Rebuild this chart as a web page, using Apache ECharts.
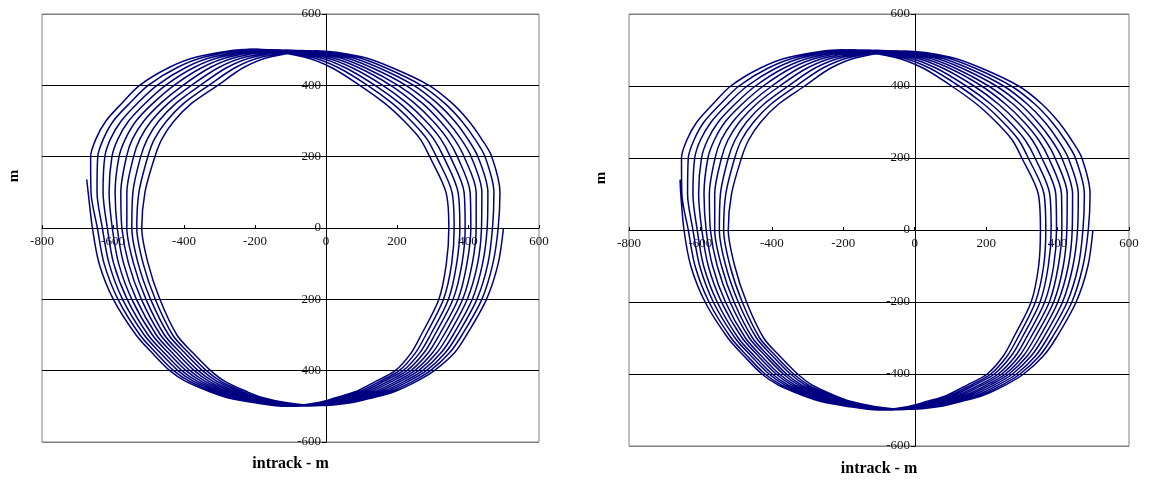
<!DOCTYPE html>
<html>
<head>
<meta charset="utf-8">
<script src="https://cdn.jsdelivr.net/npm/echarts@6/dist/echarts.min.js"></script>
<style>
html,body{margin:0;padding:0;background:#fff;}
#c{width:1150px;height:481px;}
</style>
</head>
<body>
<div id="c"></div>
<script>
// ---------- DATA (metres) ----------
const X_TICKS = [-800, -600, -400, -200, 0, 200, 400, 600];
const Y_TICKS = [-600, -400, -200, 0, 200, 400, 600];
const X_TITLE = 'intrack - m';
const Y_TITLE = 'm';

// radial levels at which each loop's intrack position was read
const LEFT_LEVELS = [480, 450, 400, 350, 300, 250, 200, 100, 0, -100, -200, -300, -350, -400, -430, -460, -475, -490];
const RIGHT_LEVELS = [-490, -475, -460, -430, -400, -350, -300, -200, -100, 0, 100, 200, 250, 300, 350, 400, 450, 480];

// ---- chart A (left) ----
const A_START = [-674, 136];
const A_LEFT_X = [
  [null, -362, -339, -316, -293, -270, -247, -224, -201, -178, -155],
  [null, -442, -419, -395, -372, -349, -326, -302, -279, -255, -232],
  [null, -525, -501, -476, -452, -428, -403, -379, -354, -330, -305],
  [null, -575, -553, -531, -509, -487, -465, -444, -422, -400, -378],
  [null, -620, -599, -577, -556, -535, -513, -492, -471, -449, -428],
  [null, -648, -627, -607, -586, -565, -545, -524, -503, -483, -462],
  [null, -663, -643, -623, -603, -583, -562, -542, -522, -502, -482],
  [-670, -662, -645, -628, -611, -594, -578, -561, -544, -527, -510],
  [-658, -644, -630, -616, -602, -588, -575, -561, -547, -533, -519],
  [-639, -625, -611, -598, -584, -570, -556, -542, -529, -515, -501],
  [-599, -586, -573, -560, -547, -534, -520, -507, -494, -481, -468],
  [-535, -524, -512, -501, -489, -478, -466, -455, -443, -432, -420],
  [-490, -479, -467, -456, -444, -433, -421, -410, -398, -387, -375],
  [-440, -429, -417, -406, -394, -383, -371, -360, -348, -337, -325],
  [-395, -384, -373, -362, -351, -340, -329, -318, -307, -296, -285],
  [-325, -315, -304, -294, -283, -273, -262, -252, -241, -231, -220],
  [-280, -270, -260, -250, -240, -230, -220, -210, -200, -190, -180],
  [-200, -191, -182, -173, -164, -155, -146, -137, -128, -119, -110]
];
const A_BOT_X = [-112, -103, -94, -84, -75, -66, -57, -48, -38, -29, -20];
const A_BOT_Y = [-500, -500, -500, -500, -499, -499, -499, -499, -498, -498, -498];
const A_RIGHT_X = [
  [-25, -16, -6, 4, 13, 23, 32, 42, 51, 61, 70],
  [30, 41, 51, 62, 72, 83, 93, 104, 114, 125, 135],
  [80, 91, 102, 113, 124, 135, 146, 157, 168, 179, 190],
  [140, 152, 163, 175, 186, 198, 209, 221, 232, 244, 255],
  [195, 206, 217, 228, 239, 250, 261, 272, 283, 294, 305],
  [240, 252, 264, 276, 288, 300, 312, 324, 336, 348, 362],
  [268, 281, 294, 306, 319, 332, 345, 358, 370, 383, 396],
  [318, 331, 345, 358, 372, 385, 398, 412, 425, 439, 452],
  [339, 354, 368, 383, 397, 412, 427, 441, 456, 470, 485],
  [346, 361, 377, 392, 408, 423, 438, 454, 469, 485, 500],
  [338, 355, 372, 389, 406, 423, 439, 456, 473, 490, null],
  [292, 311, 331, 350, 370, 389, 409, 428, 448, 467, null],
  [265, 284, 303, 323, 342, 361, 380, 399, 419, 438, null],
  [220, 240, 260, 281, 301, 321, 341, 362, 382, 402, null],
  [165, 186, 207, 228, 249, 271, 292, 313, 334, 355, null],
  [95, 117, 138, 160, 182, 203, 225, 247, 268, 290, null],
  [15, 34, 53, 72, 91, 109, 128, 147, 166, 185, null],
  [-65, -47, -28, -10, 8, 27, 45, 63, 82, 100, null]
];
const A_TOP_X = [-214, -193, -172, -152, -131, -110, -90, -69, -48, -28];
const A_TOP_Y = [501, 501, 500, 500, 499, 499, 498, 498, 497, 497];

// ---- chart B (right) ----
const B_START = [-657, 140];
const B_LEFT_X = [
  [null, -352, -330, -309, -287, -266, -244, -223, -201, -180, -158],
  [null, -432, -410, -388, -366, -345, -323, -301, -279, -257, -235],
  [null, -515, -492, -469, -446, -424, -400, -378, -354, -332, -308],
  [null, -565, -544, -524, -503, -483, -462, -443, -422, -402, -381],
  [null, -610, -590, -570, -550, -531, -510, -491, -471, -451, -431],
  [null, -638, -618, -600, -580, -561, -542, -523, -503, -485, -465],
  [null, -653, -634, -616, -597, -579, -559, -541, -522, -504, -485],
  [-655, -652, -636, -621, -605, -590, -575, -560, -544, -529, -513],
  [-646, -634, -621, -609, -596, -584, -572, -560, -547, -535, -522],
  [-627, -615, -602, -591, -578, -566, -553, -541, -529, -517, -504],
  [-587, -576, -564, -553, -541, -530, -517, -506, -494, -483, -471],
  [-523, -514, -503, -494, -483, -474, -463, -454, -443, -434, -423],
  [-478, -469, -458, -449, -438, -429, -418, -409, -398, -389, -378],
  [-428, -419, -408, -399, -388, -379, -368, -359, -348, -339, -328],
  [-383, -374, -364, -355, -345, -336, -326, -317, -307, -298, -288],
  [-313, -305, -295, -287, -277, -269, -259, -251, -241, -233, -223],
  [-268, -260, -251, -243, -234, -226, -217, -209, -200, -192, -183],
  [-188, -181, -173, -166, -158, -151, -143, -136, -128, -121, -113]
];
const B_BOT_X = [-103, -95, -87, -79, -71, -63, -54, -46, -38, -30, -22];
const B_BOT_Y = [-500, -500, -500, -500, -499, -499, -499, -499, -498, -498, -498];
const B_RIGHT_X = [
  [-17, -9, 0, 10, 18, 27, 35, 44, 53, 62, 70],
  [38, 48, 57, 68, 77, 87, 96, 106, 116, 126, 135],
  [88, 98, 108, 119, 129, 139, 149, 159, 170, 180, 190],
  [148, 159, 169, 181, 191, 202, 212, 223, 234, 245, 255],
  [203, 213, 223, 234, 244, 254, 264, 274, 285, 295, 305],
  [248, 259, 270, 282, 293, 304, 315, 326, 338, 349, 360],
  [276, 288, 300, 312, 324, 336, 348, 360, 372, 384, 396],
  [326, 338, 351, 364, 377, 389, 401, 414, 427, 440, 452],
  [347, 361, 374, 389, 402, 416, 430, 443, 458, 471, 485],
  [352, 367, 382, 397, 412, 426, 441, 456, 471, 486, 499],
  [346, 362, 378, 395, 411, 427, 442, 458, 475, 491, null],
  [300, 318, 337, 356, 375, 393, 412, 430, 450, 468, null],
  [273, 291, 309, 329, 347, 365, 383, 401, 421, 439, null],
  [228, 247, 266, 287, 306, 325, 344, 364, 384, 403, null],
  [173, 193, 213, 234, 254, 275, 295, 315, 336, 356, null],
  [103, 124, 144, 166, 187, 207, 228, 249, 270, 291, null],
  [23, 41, 59, 78, 96, 113, 131, 149, 168, 186, null],
  [-57, -40, -22, -4, 13, 31, 48, 65, 84, 101, null]
];
const B_TOP_X = [-205, -185, -165, -146, -126, -107, -87, -68, -48, -29];
const B_TOP_Y = [501, 501, 500, 500, 499, 499, 498, 498, 497, 497];

// ---------- order the read values into one continuous track ----------
function buildPath(start, leftX, botX, botY, rightX, topX, topY) {
  const pts = [start.slice()];
  const n = leftX[0].length;
  for (let k = 0; k < n; k++) {
    for (let i = 0; i < LEFT_LEVELS.length; i++) {
      const v = leftX[i][k];
      if (v !== null) pts.push([v, LEFT_LEVELS[i]]);
    }
    pts.push([botX[k], botY[k]]);
    for (let i = 0; i < RIGHT_LEVELS.length; i++) {
      const v = rightX[i][k];
      if (v !== null) pts.push([v, RIGHT_LEVELS[i]]);
    }
    if (k < topX.length) pts.push([topX[k], topY[k]]);
  }
  return pts;
}
const pathA = buildPath(A_START, A_LEFT_X, A_BOT_X, A_BOT_Y, A_RIGHT_X, A_TOP_X, A_TOP_Y);
const pathB = buildPath(B_START, B_LEFT_X, B_BOT_X, B_BOT_Y, B_RIGHT_X, B_TOP_X, B_TOP_Y);

// ---------- chart ----------
const FONT = "'Liberation Serif', 'Times New Roman', serif";
const BORDER = '#808080';
const splitColors = Y_TICKS.map((v, i) => (i === 0 || i === Y_TICKS.length - 1) ? BORDER : '#000000');
const GRIDS = [
  { left: 42, top: 14, width: 497, height: 428 },
  { left: 629, top: 14, width: 500, height: 432 }
];
const xMin = X_TICKS[0], xMax = X_TICKS[X_TICKS.length - 1];
const yMin = Y_TICKS[0], yMax = Y_TICKS[Y_TICKS.length - 1];

function xAxisCfg(gi) {
  const g = GRIDS[gi];
  return {
    gridIndex: gi, type: 'value', position: 'bottom',
    offset: -Math.round(g.height * (0 - yMin) / (yMax - yMin)),
    min: xMin, max: xMax, interval: X_TICKS[1] - X_TICKS[0],
    axisLine: { onZero: false, lineStyle: { color: '#000', width: 1 } },
    axisTick: { show: true, inside: true, length: 3, lineStyle: { color: '#000' } },
    axisLabel: { fontFamily: FONT, fontSize: 13, color: '#111', margin: 7, showMinLabel: true, showMaxLabel: true },
    splitLine: { show: false }
  };
}
function yAxisCfg(gi) {
  const g = GRIDS[gi];
  return {
    gridIndex: gi, type: 'value', position: 'left',
    offset: -Math.round(g.width * (0 - xMin) / (xMax - xMin)),
    min: yMin, max: yMax, interval: Y_TICKS[1] - Y_TICKS[0],
    axisLine: { onZero: false, lineStyle: { color: '#000', width: 1 } },
    axisTick: { show: true, length: 4, lineStyle: { color: '#000' } },
    axisLabel: { fontFamily: FONT, fontSize: 13, color: '#111', margin: 5, showMinLabel: true, showMaxLabel: true },
    splitLine: { show: true, lineStyle: { color: splitColors, width: 1 } }
  };
}
function seriesCfg(gi, data) {
  return {
    type: 'line', xAxisIndex: gi, yAxisIndex: gi, data: data,
    showSymbol: false, symbol: 'none', smooth: 0.3,
    lineStyle: { color: '#000080', width: 1.5 },
    animation: false, silent: true
  };
}
function textEl(x, y, text, size, rot) {
  return {
    type: 'text', x: x, y: y, rotation: rot || 0,
    style: {
      text: text, font: 'bold ' + size + 'px ' + FONT, fill: '#000',
      textAlign: 'center', textVerticalAlign: 'middle', align: 'center', verticalAlign: 'middle'
    }
  };
}

const chart = echarts.init(document.getElementById('c'), null, { renderer: 'canvas' });
chart.setOption({
  animation: false,
  backgroundColor: '#fff',
  grid: GRIDS.map(g => Object.assign({ show: true, borderColor: BORDER, borderWidth: 1, containLabel: false }, g)),
  xAxis: [xAxisCfg(0), xAxisCfg(1)],
  yAxis: [yAxisCfg(0), yAxisCfg(1)],
  series: [seriesCfg(0, pathA), seriesCfg(1, pathB)],
  graphic: [
    textEl(290.5, 464, X_TITLE, 16, 0),
    textEl(879, 469, X_TITLE, 16, 0),
    textEl(14, 176, Y_TITLE, 15, Math.PI / 2),
    textEl(601, 178, Y_TITLE, 15, Math.PI / 2)
  ]
});
</script>
</body>
</html>
